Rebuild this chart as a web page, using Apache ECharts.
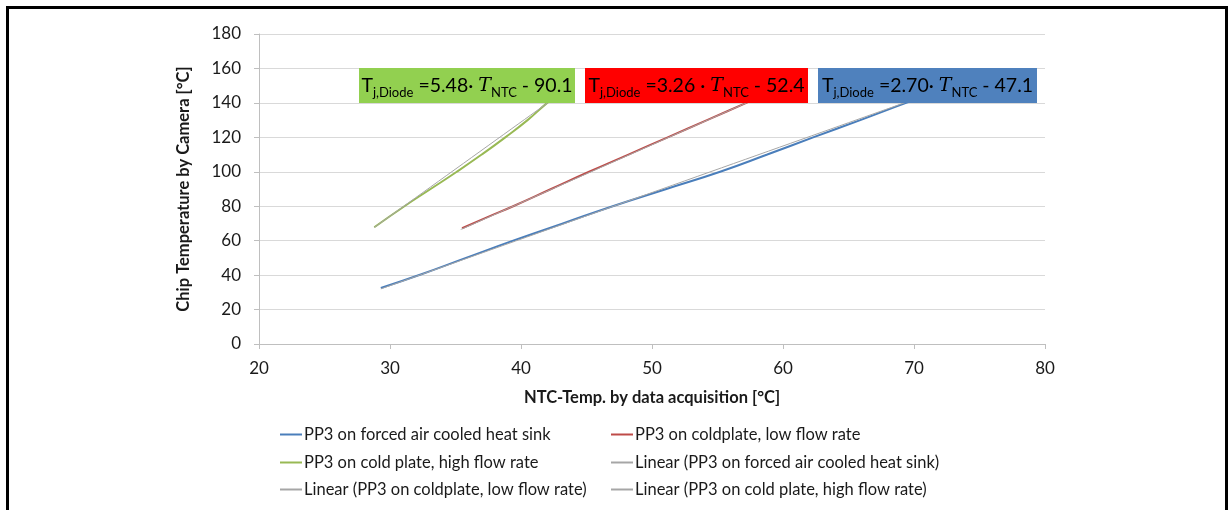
<!DOCTYPE html>
<html>
<head>
    <meta charset="utf-8">
    <title>Chip temperature vs NTC</title>
    <script src="https://cdn.jsdelivr.net/npm/echarts@6/dist/echarts.min.js"></script>
    <style>
        body { margin: 0; background: #fff; }
        #frame { position: absolute; left: 6px; top: 6px; width: 1216px; height: 520px; border: 3px solid #000; }
        #main { position: absolute; left: 0; top: 0; width: 1231px; height: 510px; }
    </style>
</head>
<body>
    <div id="frame"></div>
    <div id="main"></div>
    <script type="text/javascript">
        // measured curves, [NTC temp, chip temp]
        var airData = [[29.3, 32.5], [32.4, 40.5], [35.8, 50], [39.4, 60], [43.2, 70], [47.0, 80], [51.1, 90], [55.2, 100], [58.8, 110], [62.3, 120], [65.9, 130], [69.4, 140], [70.2, 142]]
        var lowFlowData = [[35.5, 67.2], [37.4, 73.5], [39.4, 80], [42.3, 90], [45.2, 100], [48.2, 110], [51.2, 120], [54.2, 130], [57.2, 140], [57.8, 142]]
        var highFlowData = [[28.8, 67.8], [31.1, 80], [33.1, 90], [35.1, 100], [37.0, 110], [38.8, 120], [40.5, 130], [42.0, 140], [42.4, 142]]

        // linear trend lines (end points)
        var airTrend = [[29.3, 32.0], [70.0, 142.0]]
        var lowFlowTrend = [[35.4, 66.5], [57.8, 142.0]]
        var highFlowTrend = [[28.8, 67.7], [42.4, 142.0]]

        var seriesNames = [
            'PP3 on forced air cooled heat sink',
            'PP3 on coldplate, low flow rate',
            'PP3 on cold plate, high flow rate',
            'Linear (PP3 on forced air cooled heat sink)',
            'Linear (PP3 on coldplate, low flow rate)',
            'Linear (PP3 on cold plate, high flow rate)'
        ]
        // slope / offset text of the three fit boxes
        var fitSlopes = ['5.48', '3.26 ', '2.70']
        var fitOffsets = ['90.1', '52.4', '47.1']

        var FONT = 'Lato, "Open Sans", sans-serif'
        var TEXT = '#1a1a1a'

        function mkLine(name, data, color, width){
            return {
                name: name,
                type: 'line',
                data: data,
                showSymbol: false,
                symbol: 'none',
                smooth: 0.5,
                lineStyle: { color: color, width: width },
                itemStyle: { color: color },
                emphasis: { disabled: true },
                z: width > 1.5 ? 2 : 3
            }
        }

        // one legend per entry so the 2x3 grid lands where excel put it
        var legendPos = [[280, 426], [611, 426], [280, 454], [611, 454], [280, 481], [611, 481]]
        var legends = seriesNames.map(function(n, i){
            return {
                data: [n],
                left: legendPos[i][0],
                top: legendPos[i][1],
                padding: 0,
                icon: 'rect',
                itemWidth: 22,
                itemHeight: 2,
                selectedMode: false,
                textStyle: { fontFamily: FONT, fontSize: 16.5, color: TEXT, padding: [0, 0, 0, -3] }
            }
        })

        function fitBox(x, w, color, k, b){
            var rich = {
                n: { fontFamily: FONT, fontSize: 19.5, color: TEXT, lineHeight: 26, verticalAlign: 'middle' },
                s: { fontFamily: FONT, fontSize: 13, color: TEXT, lineHeight: 14, verticalAlign: 'bottom' },
                it: { fontFamily: '"DejaVu Serif", serif', fontStyle: 'italic', fontSize: 19, color: TEXT, lineHeight: 26, verticalAlign: 'middle' }
            }
            return {
                type: 'group',
                z: 100,
                children: [
                    { type: 'rect', shape: { x: x, y: 68, width: w, height: 35 }, style: { fill: color }, z: 100 },
                    {
                        type: 'text', x: x + w / 2, y: 86, z: 101,
                        style: {
                            text: '{n|T}{s|j,Diode}{n| =' + k + '\u00b7 }{it|T}{s|NTC}{n| - ' + b + '}',
                            rich: rich, align: 'center', verticalAlign: 'middle'
                        }
                    }
                ]
            }
        }

        var myChart = echarts.init(document.getElementById('main'))
        var option = {
            animation: false,
            backgroundColor: 'transparent',
            grid: { left: 259, right: 186, top: 34, bottom: 166 },
            legend: legends,
            xAxis: {
                type: 'value',
                min: 20, max: 80, interval: 10,
                name: 'NTC-Temp. by data acquisition [\u00b0C]',
                nameLocation: 'middle',
                nameGap: 45,
                nameTextStyle: { fontFamily: FONT, fontSize: 16.5, fontWeight: 'bold', color: TEXT },
                axisLine: { lineStyle: { color: '#bfbfbf' } },
                axisTick: { show: true, length: 5, lineStyle: { color: '#bfbfbf' } },
                axisLabel: { fontFamily: FONT, fontSize: 17, color: TEXT, margin: 16 },
                splitLine: { show: false }
            },
            yAxis: {
                type: 'value',
                min: 0, max: 180, interval: 20,
                name: 'Chip Temperature by Camera [\u00b0C]',
                nameLocation: 'middle',
                nameGap: 67,
                nameTextStyle: { fontFamily: FONT, fontSize: 16.5, fontWeight: 'bold', color: TEXT },
                axisLine: { show: true, lineStyle: { color: '#bfbfbf' } },
                axisTick: { show: true, length: 5, lineStyle: { color: '#bfbfbf' } },
                axisLabel: { fontFamily: FONT, fontSize: 17, color: TEXT, margin: 18 },
                splitLine: { lineStyle: { color: '#d9d9d9' } }
            },
            series: [
                mkLine(seriesNames[0], airData, '#4a7ebb', 2),
                mkLine(seriesNames[1], lowFlowData, '#be4b48', 2),
                mkLine(seriesNames[2], highFlowData, '#98b954', 2),
                mkLine(seriesNames[3], airTrend, '#a6a6a6', 1),
                mkLine(seriesNames[4], lowFlowTrend, '#a6a6a6', 1),
                mkLine(seriesNames[5], highFlowTrend, '#a6a6a6', 1)
            ],
            graphic: [
                fitBox(359, 216, '#92d050', fitSlopes[0], fitOffsets[0]),
                fitBox(585, 223, '#ff0000', fitSlopes[1], fitOffsets[1]),
                fitBox(818, 219, '#4f81bd', fitSlopes[2], fitOffsets[2])
            ]
        }
        myChart.setOption(option)
    </script>
</body>
</html>
